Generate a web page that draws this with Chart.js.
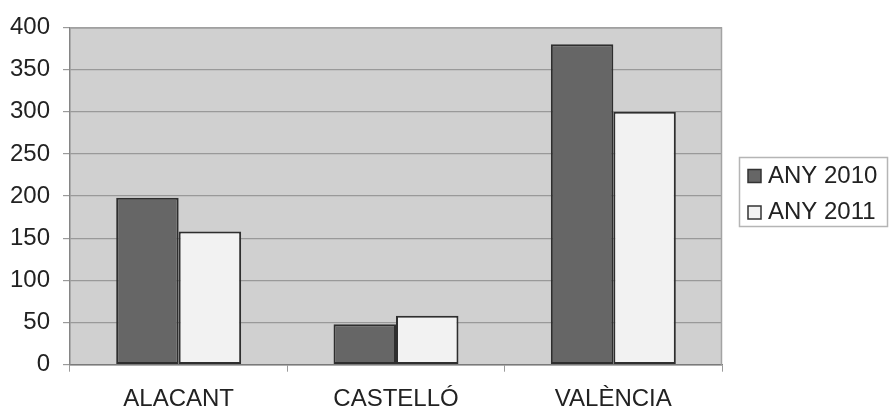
<!DOCTYPE html>
<html>
<head>
<meta charset="utf-8">
<script src="https://cdn.jsdelivr.net/npm/chart.js@4/dist/chart.umd.min.js"></script>
<style>
  html, body { margin: 0; padding: 0; background: #ffffff; }
  #wrap { width: 891px; height: 410px; }
</style>
</head>
<body>
<div id="wrap"><canvas id="chart" width="891" height="410"></canvas></div>
<script>
// Regions and yearly values
const regions = ['ALACANT', 'CASTELLÓ', 'VALÈNCIA'];
const series2010 = [198, 48, 380];
const series2011 = [158, 58, 300];
const seriesNames = ['ANY 2010', 'ANY 2011'];
const yTicks = [0, 50, 100, 150, 200, 250, 300, 350, 400];

const FONT = '"Liberation Sans", Arial, sans-serif';
const TEXT = '#222222';

// Grey plot background plus a frame around the plotting area
const plotFrame = {
  id: 'plotFrame',
  beforeDraw(chart) {
    const { ctx, chartArea: a } = chart;
    ctx.save();
    ctx.fillStyle = '#d0d0d0';
    ctx.fillRect(a.left, a.top, a.right - a.left, a.bottom - a.top);
    ctx.restore();
  },
  afterDatasetsDraw(chart) {
    const { ctx, chartArea: a } = chart;
    ctx.save();
    ctx.lineWidth = 1.5;
    ctx.strokeStyle = '#a3a3a3';
    ctx.beginPath();
    ctx.moveTo(a.left, a.top + 0.5);
    ctx.lineTo(a.right - 0.5, a.top + 0.5);
    ctx.lineTo(a.right - 0.5, a.bottom);
    ctx.stroke();
    ctx.restore();
  }
};

// Boxed legend on the right-hand side
const boxLegend = {
  id: 'boxLegend',
  afterDraw(chart) {
    const { ctx } = chart;
    const x = 739.5, y = 157.5, w = 148, h = 69;
    ctx.save();
    ctx.fillStyle = '#ffffff';
    ctx.fillRect(x, y, w, h);
    ctx.strokeStyle = '#b5b5b5';
    ctx.lineWidth = 1.5;
    ctx.strokeRect(x, y, w, h);
    ctx.font = '24px ' + FONT;
    ctx.textBaseline = 'middle';
    ctx.textAlign = 'left';
    chart.data.datasets.forEach((ds, i) => {
      const cy = 176 + i * 36.5;
      ctx.fillStyle = ds.backgroundColor;
      ctx.fillRect(748, cy - 6.5, 13, 13);
      ctx.strokeStyle = '#333333';
      ctx.lineWidth = 1.5;
      ctx.strokeRect(748, cy - 6.5, 13, 13);
      ctx.fillStyle = TEXT;
      ctx.fillText(ds.label, 768, cy);
    });
    ctx.restore();
  }
};

new Chart(document.getElementById('chart'), {
  type: 'bar',
  data: {
    labels: regions,
    datasets: [
      {
        label: seriesNames[0],
        data: series2010,
        backgroundColor: '#666666',
        borderColor: '#2e2e2e',
        borderWidth: 2,
        borderSkipped: false
      },
      {
        label: seriesNames[1],
        data: series2011,
        backgroundColor: '#f2f2f2',
        borderColor: '#2e2e2e',
        borderWidth: 2,
        borderSkipped: false
      }
    ]
  },
  options: {
    responsive: false,
    animation: false,
    devicePixelRatio: 1,
    layout: { padding: { top: 23, right: 169, bottom: 0, left: 0 } },
    datasets: { bar: { categoryPercentage: 0.575, barPercentage: 1.0 } },
    plugins: {
      legend: { display: false },
      tooltip: { enabled: false }
    },
    scales: {
      x: {
        offset: true,
        afterFit(scale) { scale.height = 45.3; },
        grid: {
          offset: true,
          drawOnChartArea: false,
          drawTicks: true,
          tickLength: 7,
          tickColor: '#9a9a9a'
        },
        border: { display: true, color: '#7a7a7a', width: 1.5 },
        ticks: {
          color: TEXT,
          padding: 16,
          font: { family: FONT, size: 24, lineHeight: 1.0 },
          maxRotation: 0
        }
      },
      y: {
        min: 0,
        max: 400,
        afterFit(scale) { scale.width = 70; },
        afterBuildTicks(scale) { scale.ticks = yTicks.map(v => ({ value: v })); },
        grid: {
          color: '#999999',
          lineWidth: 1.2,
          drawTicks: true,
          tickLength: 7,
          tickColor: '#9a9a9a'
        },
        border: { display: true, color: '#858585', width: 1.5 },
        ticks: {
          color: TEXT,
          padding: 13,
          font: { family: FONT, size: 24 }
        }
      }
    }
  },
  plugins: [plotFrame, boxLegend]
});
</script>
</body>
</html>
